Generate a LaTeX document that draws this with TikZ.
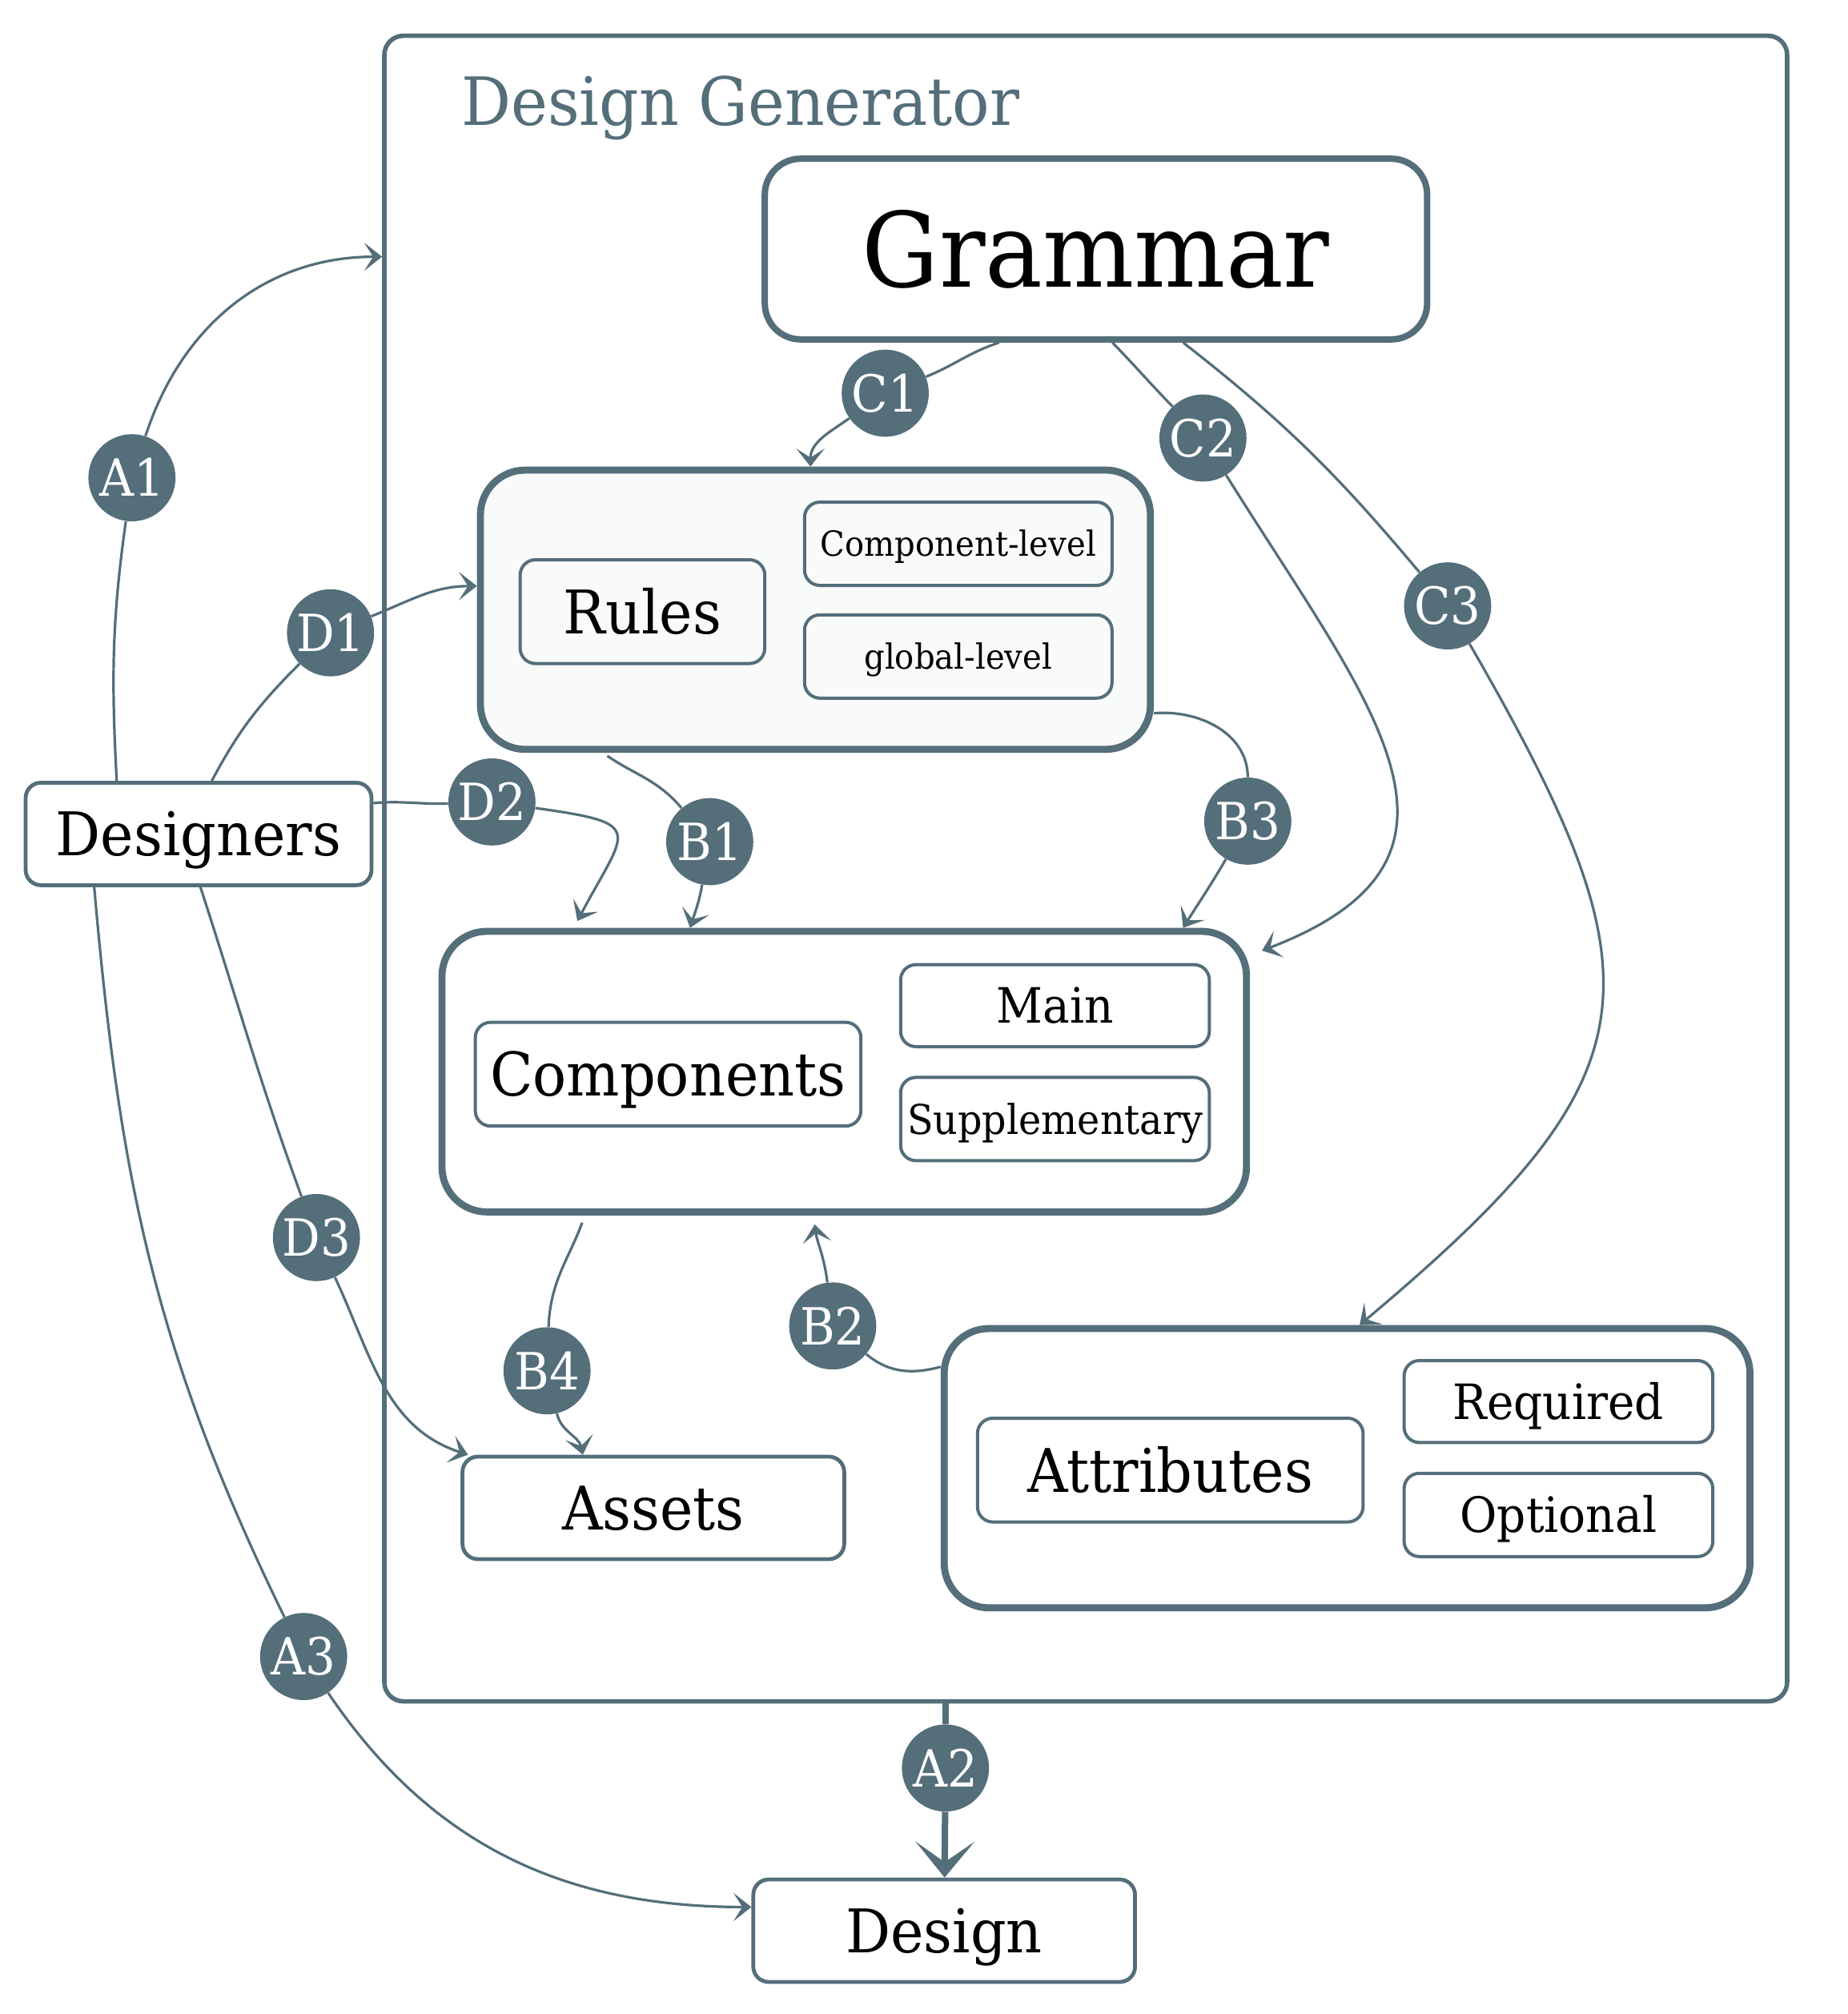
\documentclass[tikz,border=0pt]{standalone}
\usepackage{fontspec}
\setmainfont{DejaVu Serif}[FakeStretch=0.93]
\usetikzlibrary{arrows.meta}
\definecolor{slate}{HTML}{546E7A}
\definecolor{rulesbg}{HTML}{F9FAFA}
\tikzset{
  caps/.style={text height=#1, text depth=0pt},
  frame/.style={draw=slate, line width=3.5pt, rounded corners=15pt},
  part/.style={draw=slate, line width=5.5pt, rounded corners=35pt, fill=white},
  item/.style={draw=slate, line width=2.5pt, rounded corners=12pt, inner sep=0pt},
  label/.style={font=\bigtext, caps=34.3pt},
  actor/.style={draw=slate, line width=3pt, rounded corners=12pt, fill=white,
    inner sep=0pt, minimum width=298pt, minimum height=80pt, label},
  badge/.style={circle, fill=slate, text=white, minimum size=68pt, inner sep=0pt,
    font=\fontsize{40}{40}\selectfont, caps=29.2pt},
  link/.style={draw=slate, line width=2pt, -{Stealth[length=14pt,width=22pt,inset=7pt]}},
  wire/.style={draw=slate, line width=2pt},
}
\newcommand\bigtext{\fontsize{47}{50}\selectfont}
\newcommand\midtext{\fontsize{38}{40}\selectfont}
\newcommand\smalltext{\fontsize{27}{28}\selectfont}

\begin{document}
\begin{tikzpicture}[x=1pt,y=1pt]
\useasboundingbox (0,0) rectangle (1442.5,1571.9);

%the generator and its parts
\node[frame, minimum width=1095pt, minimum height=1300pt] (gen) at (847.5,894) {};
\node[anchor=base west, text=slate, inner sep=0pt, font=\fontsize{52}{60}\selectfont] (title) at (360,1474) {Design Generator};

\node[draw=slate, line width=5pt, rounded corners=28pt, minimum width=517pt, minimum height=141pt,
  font=\fontsize{81}{90}\selectfont, caps=59pt] (grammar) at (855.5,1377.5) {Grammar};

\node[part, fill=rulesbg, minimum width=523pt, minimum height=218pt] (rules) at (636.5,1096) {};
\node[item, label, minimum width=191pt, minimum height=81pt] (rulesname) at (501.5,1094.5) {Rules};
\node[item, minimum width=240pt, minimum height=65pt, font=\smalltext, caps=19.7pt] (complevel) at (748,1147.5) {Component-level};
\node[item, minimum width=240pt, minimum height=65pt, font=\smalltext, caps=19.7pt] (globallevel) at (748,1059.5) {global-level};

\node[part, minimum width=628pt, minimum height=219pt] (comps) at (659,735.5) {};
\node[item, label, minimum width=301pt, minimum height=81pt] (compsname) at (521.5,733.5) {Components};
\node[item, minimum width=241pt, minimum height=64pt, font=\midtext, caps=27.7pt] (main) at (823.5,787) {Main};
\node[item, minimum width=241pt, minimum height=65pt, font=\fontsize{32}{34}\selectfont, caps=23.4pt] (supp) at (823.5,698.5) {Supplementary};

\node[part, minimum width=629pt, minimum height=218pt] (attrs) at (1051.5,426) {};
\node[item, label, minimum width=301pt, minimum height=81pt] (attrsname) at (913.5,424.5) {Attributes};
\node[item, minimum width=241pt, minimum height=64pt, font=\midtext, caps=27.7pt] (required) at (1216.5,478) {Required};
\node[item, minimum width=241pt, minimum height=65pt, font=\midtext, caps=27.7pt] (optional) at (1216.5,389.5) {Optional};

\node[actor] (assets) at (510,395) {Assets};
\node[actor, minimum width=270pt] (designers) at (155,921) {Designers};
\node[actor] (design) at (737,65) {Design};

%step badges
\node[badge] (A1) at (103,1199) {A1};
\node[badge] (A2) at (738,192) {A2};
\node[badge] (A3) at (237,279) {A3};
\node[badge] (B1) at (554,915) {B1};
\node[badge] (B2) at (650,537) {B2};
\node[badge] (B3) at (974,931) {B3};
\node[badge] (B4) at (427,502) {B4};
\node[badge] (C1) at (691,1265) {C1};
\node[badge] (C2) at (939,1230) {C2};
\node[badge] (C3) at (1130,1099) {C3};
\node[badge] (D1) at (258,1078) {D1};
\node[badge] (D2) at (384,946) {D2};
\node[badge] (D3) at (247,606) {D3};

%connectors
\draw[wire] (designers.147) to[out=93,in=-98] (A1);
\draw[link] (A1) to[out=72,in=180] (gen.139);
\draw[draw=slate, line width=5pt] (A2 |- gen.south) -- (A2);
\draw[draw=slate, line width=5pt, -{Stealth[length=28pt,width=46pt,inset=16pt]}] (A2) -- (design);
\draw[wire] (designers.-153) to[out=-85,in=116] (A3);
\draw[link] (A3) to[out=-56,in=180] (design.173.5);

\draw[wire, shorten <=4pt] (rules.-146) to[out=-35,in=130] (B1);
\draw[link] (B1) to[out=-100,in=72] (comps.137);
\draw[wire] (attrs.166) to[out=195,in=-40] (B2);
\draw[link, shorten >=7pt] (B2) to[out=97,in=-83] (comps.258);
\draw[wire] (rules.-17) to[out=5,in=90] (B3);
\draw[link] (B3) to[out=-120,in=58] (comps.23);
\draw[wire, shorten <=6pt] (comps.209) to[out=-110,in=88] (B4);
\draw[link] (B4) to[out=-77,in=102] (assets.143);

\draw[wire] (grammar.224) to[out=198,in=22] (C1);
\draw[link] (C1) to[out=215,in=90] (rules.92);
\draw[wire] (grammar.-80) to[out=-46,in=134] (C2);
\draw[link, shorten >=10pt, looseness=1.45] (C2) to[out=-58,in=21] (comps.16);
\draw[wire] (grammar.-47) to[out=-38,in=130] (C3);
\draw[link, looseness=1.45] (C3) to[out=-60,in=40] (attrs.85);

\draw[wire] (designers.76) to[out=62,in=-135] (D1);
\draw[link] (D1) to[out=22,in=180] (rules.176);
\draw[wire] (designers.10) to[out=5,in=182] (D2);
\draw[link, shorten >=6pt, looseness=2.3] (D2) to[out=-8,in=62] (comps.152);
\draw[wire] (designers.-88) to[out=-72,in=110] (D3);
\draw[link] (D3) to[out=-65,in=162] (assets.164);
\end{tikzpicture}
\end{document}
